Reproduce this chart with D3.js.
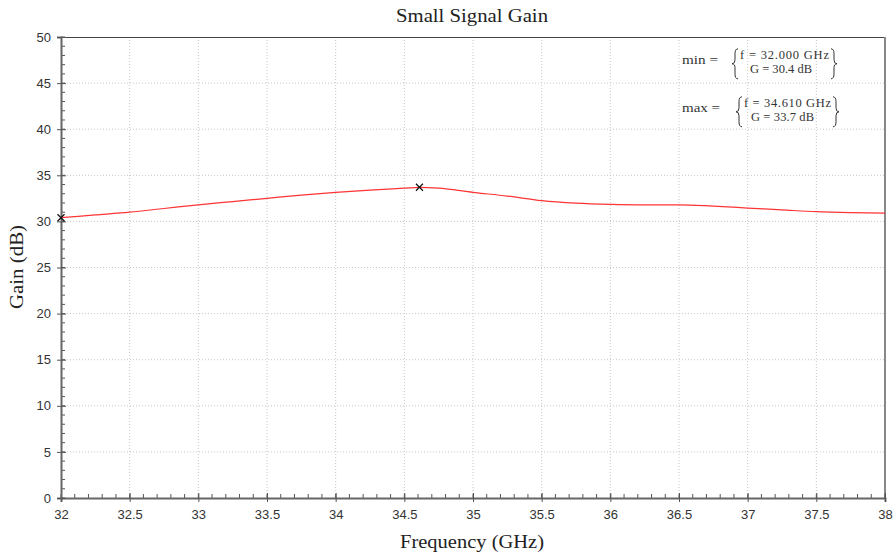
<!DOCTYPE html>
<html><head><meta charset="utf-8">
<script src="https://cdn.jsdelivr.net/npm/d3@7"></script>
<style>body{margin:0;background:#fff}svg{display:block}</style>
</head><body>
<svg id="c" width="895" height="556"></svg>
<script>
const freq = [32.0,32.25,32.5,32.75,33.0,33.25,33.5,33.75,34.0,34.25,34.5,34.61,34.75,35.0,35.25,35.5,35.75,36.0,36.25,36.5,36.75,37.0,37.25,37.5,37.75,38.0];
const gain = [30.4,30.7,31.0,31.4,31.8,32.15,32.5,32.85,33.15,33.4,33.6,33.7,33.6,33.15,32.75,32.25,31.98,31.85,31.8,31.8,31.65,31.45,31.25,31.05,30.95,30.9];
const markers = [{f:32.000,g:30.4},{f:34.610,g:33.7}];
const xTicks = [32,32.5,33,33.5,34,34.5,35,35.5,36,36.5,37,37.5,38];
const yTicks = [0,5,10,15,20,25,30,35,40,45,50];
const title = "Small Signal Gain";
const xLabel = "Frequency (GHz)";
const yLabel = "Gain (dB)";

const svg = d3.select("#c");
const L=61,R=885,T=37,B=498;
const x = d3.scaleLinear().domain([32,38]).range([L,R]);
const y = d3.scaleLinear().domain([0,50]).range([B,T]);
const serif = "'Liberation Serif','DejaVu Serif',serif";
const sans = "'Liberation Sans',Arial,sans-serif";

// grid
const g = svg.append("g");
g.selectAll(".gx").data(xTicks.slice(1,-1)).enter().append("line")
 .attr("x1",d=>x(d)).attr("x2",d=>x(d)).attr("y1",T).attr("y2",B)
 .attr("stroke","#c8c8c8").attr("stroke-width",1).attr("stroke-dasharray","1,2");
g.selectAll(".gy").data(yTicks.slice(1,-1)).enter().append("line")
 .attr("x1",L).attr("x2",R).attr("y1",d=>y(d)).attr("y2",d=>y(d))
 .attr("stroke","#c8c8c8").attr("stroke-width",1).attr("stroke-dasharray","1,2");

// frame
svg.append("line").attr("x1",L).attr("x2",R).attr("y1",T+0.5).attr("y2",T+0.5).attr("stroke","#444").attr("stroke-width",1);
svg.append("line").attr("x1",R).attr("x2",R).attr("y1",T).attr("y2",B).attr("stroke","#888").attr("stroke-width",2);

// minor ticks
const xMinor = d3.range(32,38.0001,0.1);
svg.append("g").selectAll("line").data(xMinor).enter().append("line")
 .attr("x1",d=>x(d)).attr("x2",d=>x(d)).attr("y1",B).attr("y2",B-4)
 .attr("stroke","#555").attr("stroke-width",1);
const yMinor = d3.range(0,50.001,1);
svg.append("g").selectAll("line").data(yMinor).enter().append("line")
 .attr("x1",L).attr("x2",L+4).attr("y1",d=>y(d)).attr("y2",d=>y(d))
 .attr("stroke","#555").attr("stroke-width",1);

// axes
const xa = svg.append("g").attr("transform",`translate(0,${B})`)
 .call(d3.axisBottom(x).tickValues(xTicks).tickFormat(d3.format("")).tickSize(4).tickPadding(8));
const ya = svg.append("g").attr("transform",`translate(${L},0)`)
 .call(d3.axisLeft(y).tickValues(yTicks).tickSize(4).tickPadding(6));
[xa,ya].forEach(a=>{
 a.select(".domain").attr("stroke","#666").attr("stroke-width",2);
 a.selectAll(".tick line").attr("stroke","#555");
 a.selectAll(".tick text").attr("font-family",sans).attr("font-size",13).attr("fill","#333");
});
xa.selectAll(".tick line").attr("y1",-5);
ya.selectAll(".tick line").attr("x1",5);

// line
const line = d3.line().x((d,i)=>x(freq[i])).y(d=>y(d)).curve(d3.curveMonotoneX);
svg.append("path").attr("d",line(gain)).attr("fill","none").attr("stroke","#ff3434").attr("stroke-width",1.2);

// markers
svg.append("g").selectAll("path").data(markers).enter().append("path")
 .attr("d",d=>{const cx=x(d.f),cy=y(d.g),s=3.5;return `M${cx-s},${cy-s}L${cx+s},${cy+s}M${cx-s},${cy+s}L${cx+s},${cy-s}`;})
 .attr("stroke","#111").attr("stroke-width",1.2);

// title & labels
svg.append("text").attr("x",472).attr("y",22).attr("text-anchor","middle")
 .attr("font-family",serif).attr("font-size",18).attr("fill","#222")
 .attr("textLength",152).attr("lengthAdjust","spacingAndGlyphs").text(title);
svg.append("text").attr("x",472).attr("y",548).attr("text-anchor","middle")
 .attr("font-family",serif).attr("font-size",19).attr("fill","#222")
 .attr("textLength",144).attr("lengthAdjust","spacingAndGlyphs").text(xLabel);
svg.append("text").attr("transform","translate(23,267) rotate(-90)").attr("text-anchor","middle")
 .attr("font-family",serif).attr("font-size",19).attr("fill","#222")
 .attr("textLength",84).attr("lengthAdjust","spacingAndGlyphs").text(yLabel);

// annotations
function brace(x0, y1, y2, dir) {
 const w = 6*dir, ym = (y1+y2)/2, h = x0 + w/2, e = x0 + w;
 return `M${e},${y1} Q${h},${y1} ${h},${y1+5} L${h},${ym-4} Q${h},${ym} ${x0},${ym} Q${h},${ym} ${h},${ym+4} L${h},${y2-5} Q${h},${y2} ${e},${y2}`;
}
function annot(label, fTxt, gTxt, base, lbx, fx, gx, fEnd, gEnd, rb) {
 const a = svg.append("g").attr("font-family",serif).attr("fill","#333").attr("font-size",12.5);
 a.append("text").attr("x",682).attr("y",base+5).attr("textLength",lbx-682).attr("lengthAdjust","spacingAndGlyphs").text(label);
 a.append("text").attr("x",fx).attr("y",base).attr("textLength",fEnd-fx).attr("lengthAdjust","spacing").text(fTxt);
 a.append("text").attr("x",gx).attr("y",base+13.5).attr("textLength",gEnd-gx).attr("lengthAdjust","spacing").text(gTxt);
 a.append("path").attr("d",brace(fx-8, base-10.5, base+19.5, 1)).attr("fill","none").attr("stroke","#333").attr("stroke-width",1);
 a.append("path").attr("d",brace(rb, base-10.5, base+19.5, -1)).attr("fill","none").attr("stroke","#333").attr("stroke-width",1);
}
annot("min =", "f = " + markers[0].f.toFixed(3) + " GHz", "G = " + markers[0].g.toFixed(1) + " dB", 59.3, 718, 740, 750, 829, 812, 837);
annot("max =", "f = " + markers[1].f.toFixed(3) + " GHz", "G = " + markers[1].g.toFixed(1) + " dB", 107.3, 720, 744, 751, 831, 814, 839);
</script>
</body></html>
